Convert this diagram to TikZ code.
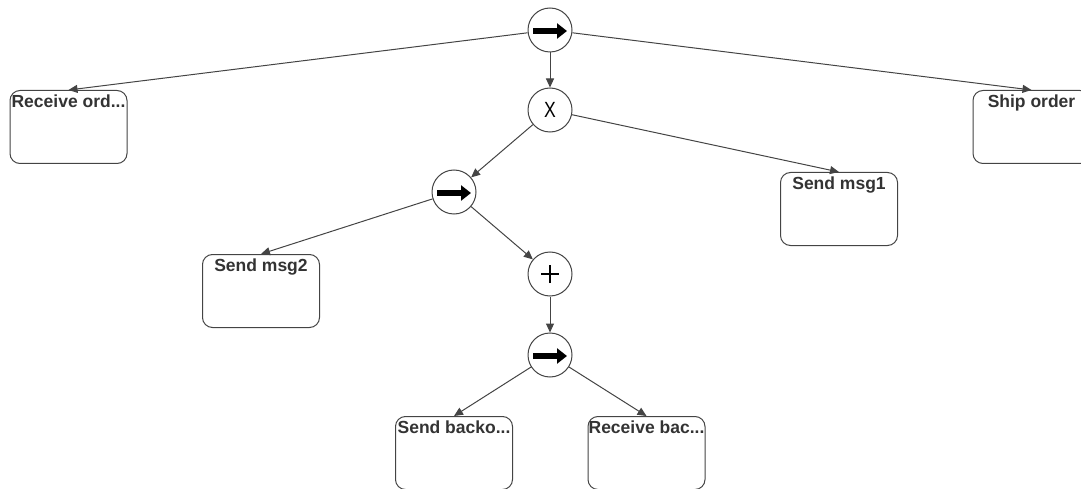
\documentclass[tikz,border=0pt]{standalone}
\usepackage{fontspec}
\setmainfont{Liberation Sans}
\usetikzlibrary{arrows.meta}
\definecolor{edgegray}{HTML}{444444}
\definecolor{labelgray}{HTML}{333333}

\begin{document}
\begin{tikzpicture}[
  x=1pt, y=-1pt,
  every node/.style={inner sep=0pt},
  op/.style={circle, draw=edgegray, line width=1pt, fill=white, minimum size=44pt},
  seqop/.style={op, path picture={
      \draw[black, line width=6pt, -{Triangle[length=10pt,width=15pt]}]
        ([xshift=-17pt, yshift=-1pt]path picture bounding box.center) -- ([xshift=17pt, yshift=-1pt]path picture bounding box.center);}},
  xorop/.style={op, font=\fontsize{22}{22}\selectfont},
  andop/.style={op, path picture={
      \draw[black, line width=1.3pt]
        ([xshift=-9pt]path picture bounding box.center) -- ([xshift=9pt]path picture bounding box.center)
        ([yshift=-9pt]path picture bounding box.center) -- ([yshift=9pt]path picture bounding box.center);}},
  task/.style={draw=edgegray, line width=1pt, rounded corners=10pt, minimum width=117pt, minimum height=73pt, anchor=north},
  tasklabel/.style={anchor=north, yshift=-5pt, inner sep=0pt, text=labelgray, font=\fontsize{17.5}{20}\selectfont\bfseries},
  flow/.style={draw=edgegray, line width=1pt, -{Triangle[length=9pt,width=8pt]}}
]
\useasboundingbox (0,0) rectangle (1081,489);

\node[seqop] (seqA) at (550,30) {};
\node[xorop] (choice) at (550,110) {\scalebox{0.8}[1]{X}};
\node[seqop] (seqB) at (454,192) {};
\node[andop] (par) at (550,274) {};
\node[seqop] (seqC) at (550,355) {};

\node[task, label={[tasklabel]north:Receive ord...}] (recvorder) at (68.5,90) {};
\node[task, label={[tasklabel]north:Ship order}] (shiporder) at (1031.5,90) {};
\node[task, label={[tasklabel]north:Send msg1}] (msgone) at (839,172) {};
\node[task, label={[tasklabel]north:Send msg2}] (msgtwo) at (261,254) {};
\node[task, label={[tasklabel]north:Send backo...}] (sendback) at (454,416) {};
\node[task, label={[tasklabel]north:Receive bac...}] (recvback) at (646.5,416) {};

\draw[flow] (seqA) -- (recvorder.north);
\draw[flow] (seqA) -- (choice);
\draw[flow] (seqA) -- (shiporder.north);
\draw[flow] (choice) -- (seqB);
\draw[flow] (choice) -- (msgone.north);
\draw[flow] (seqB) -- (msgtwo.north);
\draw[flow] (seqB) -- (par);
\draw[flow] (par) -- (seqC);
\draw[flow] (seqC) -- (sendback.north);
\draw[flow] (seqC) -- (recvback.north);
\end{tikzpicture}
\end{document}
